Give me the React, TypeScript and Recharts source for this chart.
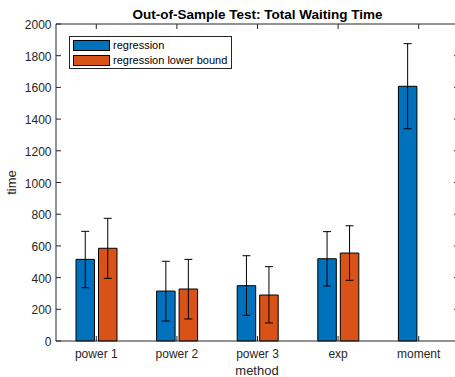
import { BarChart, Bar, XAxis, YAxis, ErrorBar, Legend } from 'recharts'

const methods = ['power 1', 'power 2', 'power 3', 'exp', 'moment']
const regression = [515, 315, 349, 519, 1607]
const regressionLow = [336, 126, 162, 347, 1339]
const regressionHigh = [692, 503, 538, 690, 1876]
const lowerBound = [585, 328, 290, 555, 0]
const lowerBoundLow = [395, 139, 114, 383, 0]
const lowerBoundHigh = [774, 515, 469, 727, 0]
const yTicks = [0, 200, 400, 600, 800, 1000, 1200, 1400, 1600, 1800, 2000]

const BLUE = '#0072BD'
const ORANGE = '#D95319'
const INK = '#262626'
const FONT = '"Liberation Sans", Arial, sans-serif'

const data = methods.map((method, i) => ({
  method,
  regression: regression[i],
  regressionErr: [regression[i] - regressionLow[i], regressionHigh[i] - regression[i]],
  lowerBound: lowerBound[i],
  lowerBoundErr: [lowerBound[i] - lowerBoundLow[i], lowerBoundHigh[i] - lowerBound[i]],
}))

// the axes box runs a few px past the right edge of the picture, so the
// category range is stretched past the plot with a negative padding
const X_PAD = { left: 0, right: -5 }

// ticks point inward, MATLAB style
function LeftTick({ x, y, payload }: any) {
  return (
    <g>
      <line x1={x} y1={y} x2={x + 5} y2={y} stroke={INK} />
      <text x={x - 4.5} y={y} dy={5} textAnchor="end" fontSize={12} fontFamily={FONT} fill={INK}>
        {payload.value}
      </text>
    </g>
  )
}

// only the tip of the right-hand ticks shows at the edge
function RightTick({ x, y }: any) {
  return <line x1={x} y1={y} x2={x + 1} y2={y} stroke={INK} />
}

function BottomTick({ x, y, payload }: any) {
  return (
    <g>
      <line x1={x} y1={y} x2={x} y2={y - 5} stroke={INK} />
      <text x={x} y={y + 17} textAnchor="middle" fontSize={12} fontFamily={FONT} fill={INK}>
        {payload.value}
      </text>
    </g>
  )
}

function TopTick({ x, y }: any) {
  return <line x1={x} y1={y} x2={x} y2={y + 5} stroke={INK} />
}

function LegendBox() {
  const items = [
    { label: 'regression', color: BLUE },
    { label: 'regression lower bound', color: ORANGE },
  ]
  return (
    <div style={{
      position: 'relative', width: 163, height: 33, boxSizing: 'border-box',
      border: `1px solid ${INK}`, background: '#fff', fontFamily: FONT, fontSize: 11, color: '#000',
    }}>
      {items.map((it, i) => (
        <div key={it.label} style={{ position: 'absolute', left: 3, top: 3 + i * 14.5, height: 11, display: 'flex', alignItems: 'center' }}>
          <div style={{ width: 37, height: 11, boxSizing: 'border-box', background: it.color, border: '1px solid #000' }} />
          <span style={{ marginLeft: 3, whiteSpace: 'nowrap', lineHeight: '11px' }}>{it.label}</span>
        </div>
      ))}
    </div>
  )
}

export default function App() {
  return (
    <div style={{ position: 'fixed', left: 0, top: 0, width: 455, height: 377, overflow: 'hidden', background: '#fff' }}>
      <div style={{
        position: 'absolute', left: 56, top: 8, width: 403, textAlign: 'center',
        fontFamily: FONT, fontSize: 13.5, fontWeight: 700, lineHeight: '13.5px', color: '#000',
      }}>
        Out-of-Sample Test: Total Waiting Time
      </div>
      <div style={{ position: 'absolute', left: 0, top: 0, width: 455, height: 377 }}>
        <BarChart width={455} height={377} data={data} margin={{ top: 23, right: 0, left: 0, bottom: 0 }}
          barSize={18.5} barGap={4}>
          <XAxis dataKey="method" height={36} padding={X_PAD} tickSize={0} tickMargin={0} axisLine={{ stroke: INK }}
            tickLine={false} tick={<BottomTick />} interval={0}
            label={{
              content: ({ viewBox }: any) => (
                <text x={257} y={375} textAnchor="middle" fontSize={13} fontFamily={FONT} fill={INK}>method</text>
              ),
            }} />
          <XAxis xAxisId="top" dataKey="method" orientation="top" height={1} padding={X_PAD} tickSize={0} tickMargin={0}
            axisLine={{ stroke: INK }} tickLine={false} tick={<TopTick />} interval={0} />
          <YAxis width={56} domain={[0, 2000]} ticks={yTicks} interval={0} tickSize={0} tickMargin={0}
            axisLine={{ stroke: INK }} tickLine={false} tick={<LeftTick />}
            label={{
              content: ({ viewBox }: any) => {
                const cy = viewBox.y + viewBox.height / 2
                return (
                  <text x={16} y={cy} transform={`rotate(-90, 16, ${cy})`} textAnchor="middle"
                    fontSize={13} fontFamily={FONT} fill={INK}>time</text>
                )
              },
            }} />
          <YAxis yAxisId="right" orientation="right" width={1} domain={[0, 2000]} ticks={yTicks} interval={0}
            allowDataOverflow tickSize={0} tickMargin={0} axisLine={false} tickLine={false} tick={<RightTick />} />
          <Legend layout="vertical" align="center" verticalAlign="middle"
            wrapperStyle={{ left: 69, top: 36, width: 163, height: 33 }} content={() => <LegendBox />} />
          <Bar dataKey="regression" fill={BLUE} stroke="#000" strokeWidth={1} isAnimationActive={false}>
            <ErrorBar dataKey="regressionErr" width={4} stroke="#000" strokeWidth={1} direction="y" />
          </Bar>
          <Bar dataKey="lowerBound" fill={ORANGE} stroke="#000" strokeWidth={1} isAnimationActive={false}>
            <ErrorBar dataKey="lowerBoundErr" width={4} stroke="#000" strokeWidth={1} direction="y" />
          </Bar>
        </BarChart>
      </div>
    </div>
  )
}
